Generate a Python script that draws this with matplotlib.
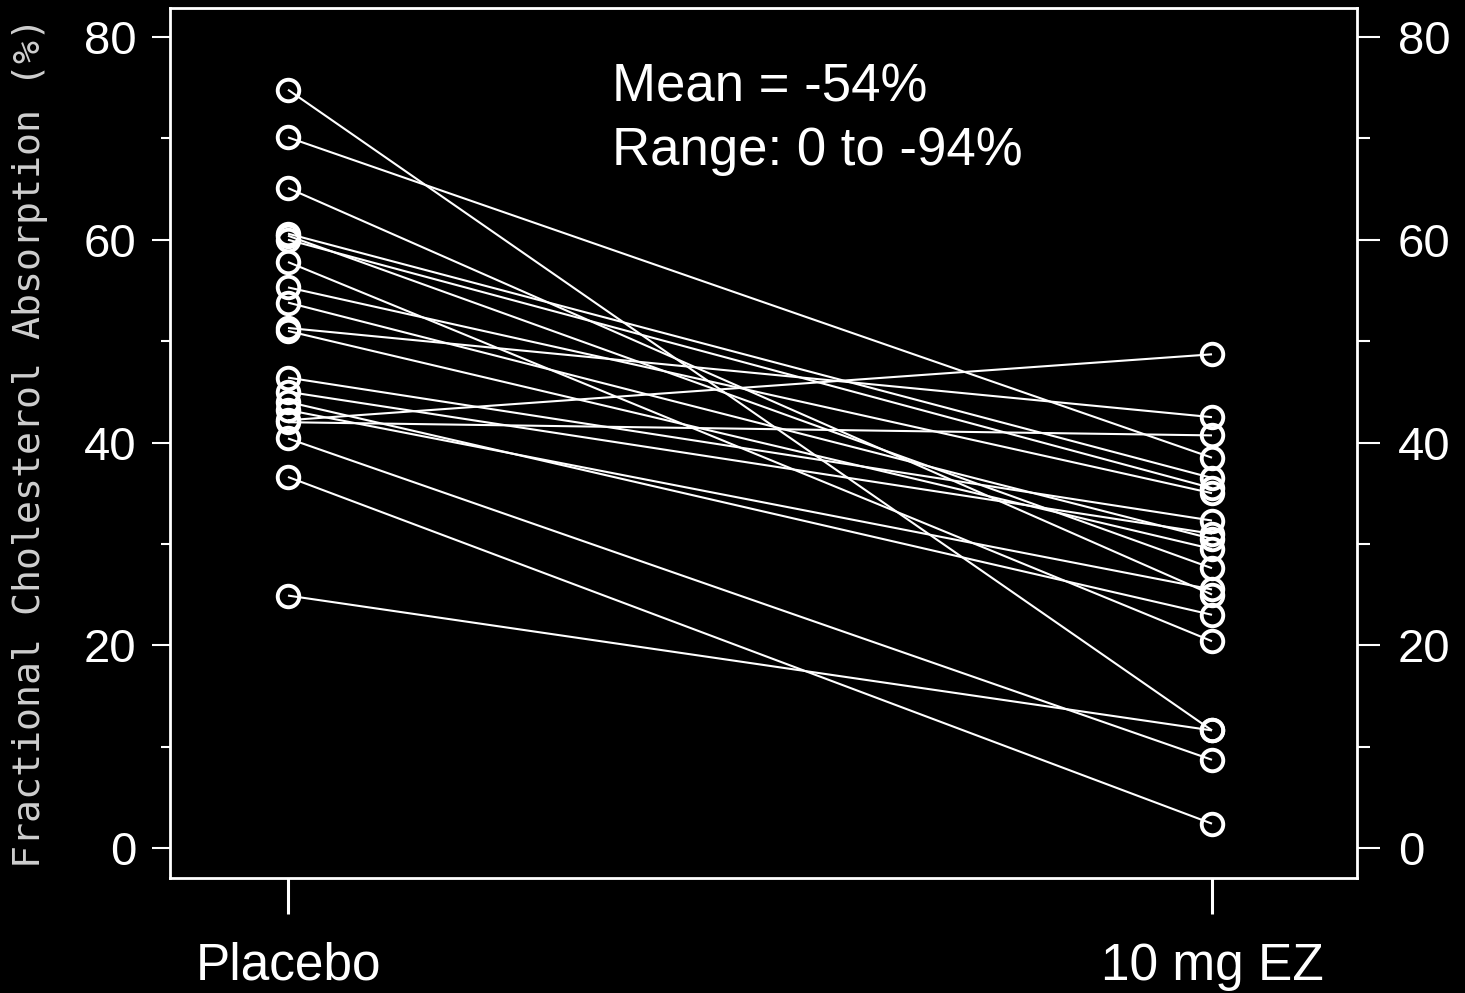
import matplotlib
matplotlib.use("Agg")
import matplotlib.pyplot as plt
from matplotlib.ticker import MultipleLocator

# Fractional cholesterol absorption (%) per subject
treatments = ["Placebo", "10 mg EZ"]
placebo = [74.8, 70.1, 65.1, 60.6, 60.4, 60.0, 57.8, 55.3, 53.8, 51.3,
           51.0, 46.4, 45.0, 44.0, 43.2, 42.2, 42.0, 40.4, 36.6, 24.9]
ezetimibe = [11.6, 38.5, 25.0, 36.5, 27.6, 35.5, 20.4, 35.0, 30.5, 42.5,
             29.5, 32.3, 31.0, 23.0, 25.5, 48.7, 40.7, 8.7, 2.4, 11.6]
yticks = [0, 20, 40, 60, 80]
summary_lines = ["Mean = -54%", "Range: 0 to -94%"]
ylabel = "Fractional Cholesterol Absorption (%)"

W, H = 1465, 993
fig = plt.figure(figsize=(W / 100, H / 100), dpi=100, facecolor="black")
ax = fig.add_axes([170 / W, 1 - 878 / H, (1357 - 170) / W, (878 - 8) / H])
ax.set_facecolor("black")

xs = [0, 1]
for p, e in zip(placebo, ezetimibe):
    ax.plot(xs, [p, e], color="white", lw=1.5, solid_capstyle="butt",
            marker="o", ms=15.5, mfc="none", mec="white", mew=2.8, zorder=3)

px_per_unit = (848 - 37) / 80.0
ax.set_ylim(-(878 - 848) / px_per_unit, 80 + (37 - 8) / px_per_unit)
ax.set_xlim(-(288 - 170) / 924.0, 1 + (1357 - 1212) / 924.0)

for s in ax.spines.values():
    s.set_color("white")
    s.set_linewidth(2.0)

font_tick = dict(family="Liberation Sans", size=34)

ax.set_yticks(yticks)
ax.set_yticklabels([str(v) for v in yticks], **font_tick, color="white")
ax.yaxis.set_minor_locator(MultipleLocator(10))
ax.tick_params(axis="y", which="major", direction="out", length=13,
               width=1.5, color="white", pad=11)
ax.tick_params(axis="y", which="minor", direction="out", length=6.5,
               width=1.5, color="white")

ax.set_xticks(xs)
ax.set_xticklabels(treatments, family="Liberation Sans", size=37,
                   color="white")
ax.tick_params(axis="x", which="major", direction="out", length=26,
               width=2.2, color="white", pad=20)

ax2 = ax.twinx()
ax2.set_ylim(ax.get_ylim())
ax2.set_yticks(yticks)
ax2.set_yticklabels([str(v) for v in yticks], **font_tick, color="white")
ax2.yaxis.set_minor_locator(MultipleLocator(10))
ax2.tick_params(axis="y", which="major", direction="out", length=16.5,
                width=1.5, color="white", pad=13)
ax2.tick_params(axis="y", which="minor", direction="out", length=9,
                width=1.5, color="white")
for s in ax2.spines.values():
    s.set_visible(False)

fig.text(30 / W, 1 - 442 / H, ylabel, rotation=90, ha="center",
         va="center", family="DejaVu Sans Mono", size=27.5, color="#cfcfcf")

# summary statistics, one text per line, placed by baseline
for line, base_px in zip(summary_lines, [101, 165]):
    fig.text(612 / W, 1 - base_px / H, line, ha="left", va="baseline",
             family="Liberation Sans", size=38, color="white")

fig.savefig("out.png", dpi=100, facecolor="black")
